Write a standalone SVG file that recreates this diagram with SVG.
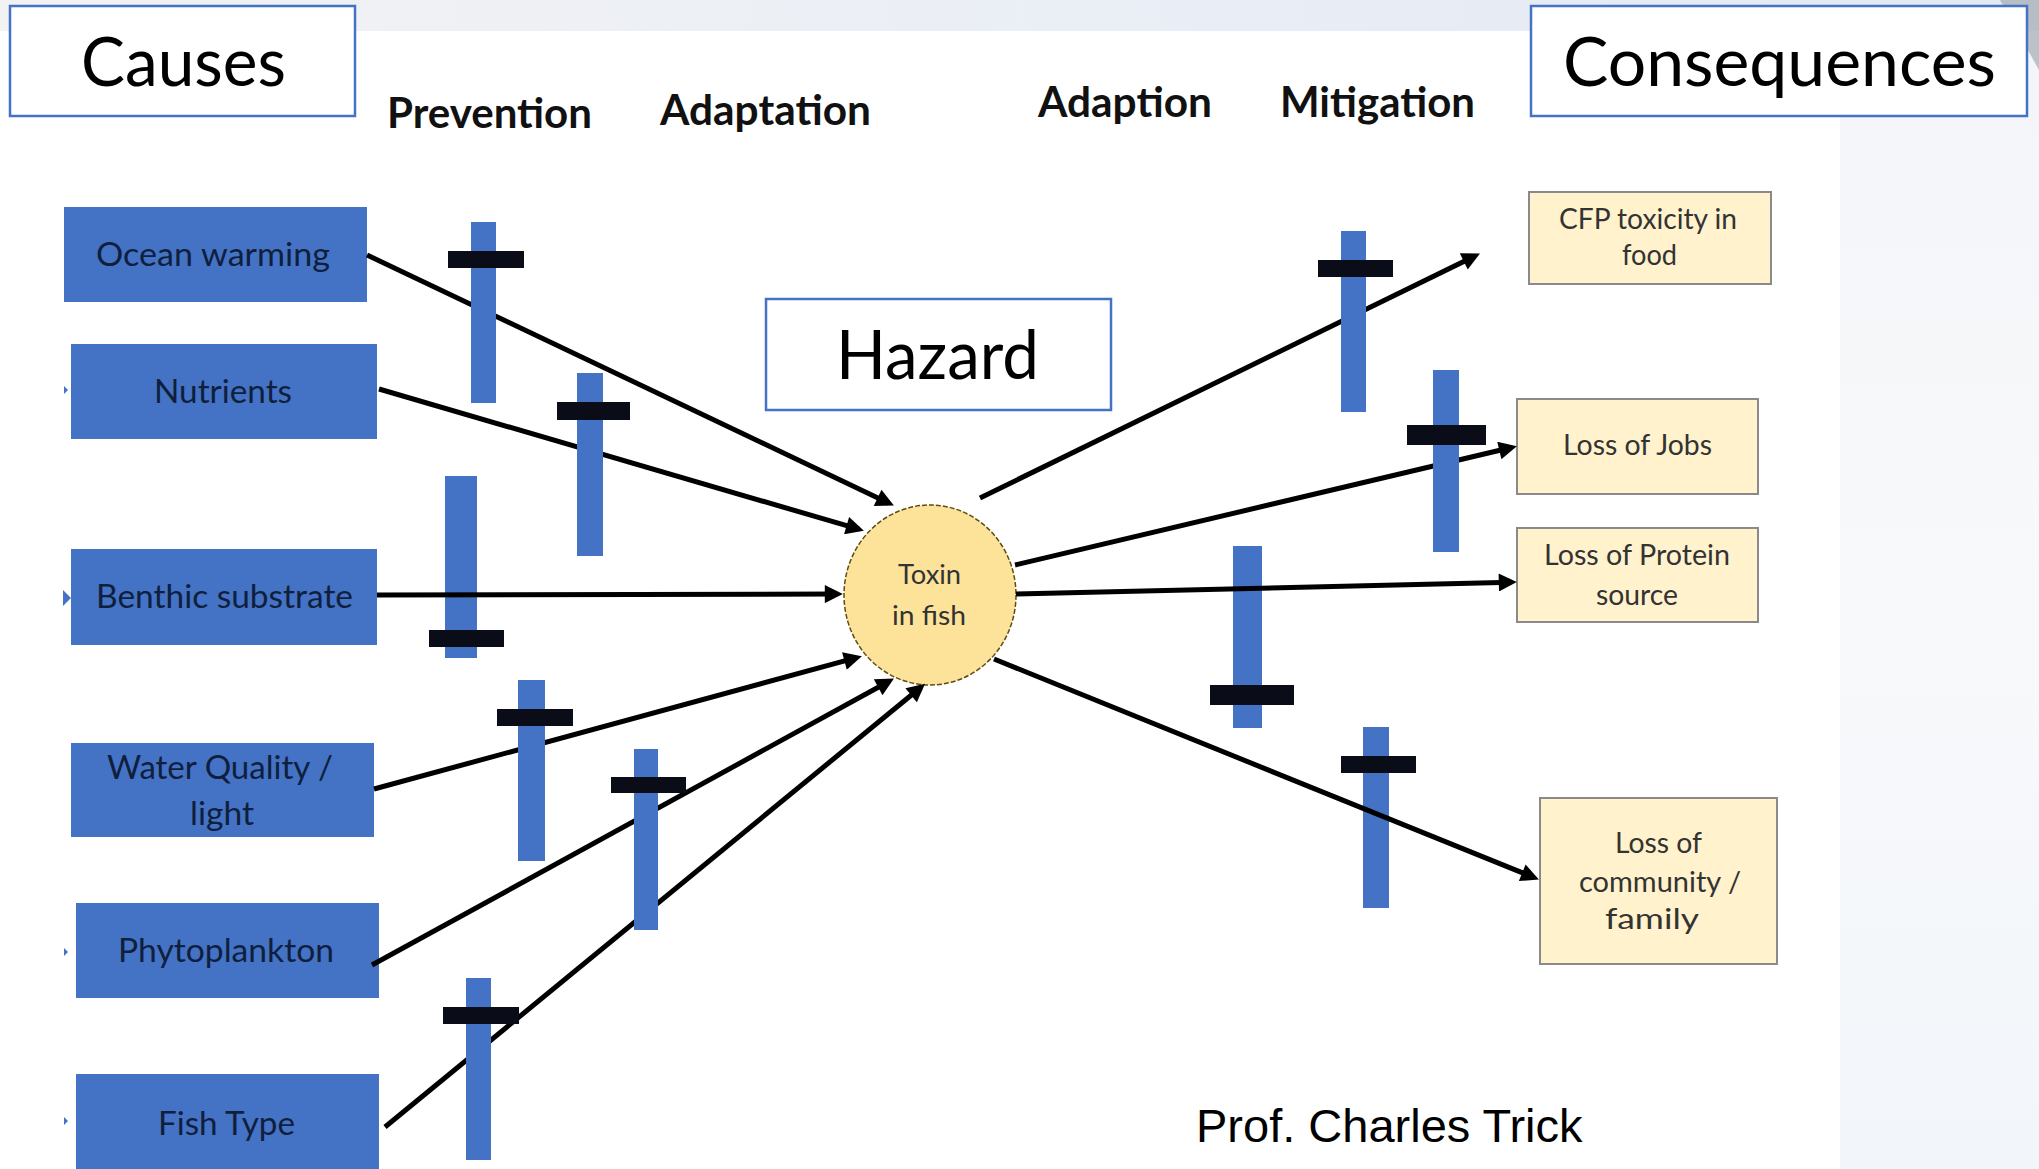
<svg xmlns="http://www.w3.org/2000/svg" width="2039" height="1169" viewBox="0 0 2039 1169">
  <defs>
    <style>
      .title { font-family: Lato, "Open Sans", sans-serif; font-size: 67px; fill: #000; }
      .col { font-family: Lato, "Open Sans", sans-serif; font-weight: bold; font-size: 42px; fill: #111; }
      .hdr { fill: #fff; stroke: #4472c4; stroke-width: 2.5; }
      .cause rect { fill: #4472c4; }
      .cause text { font-family: Lato, "Open Sans", sans-serif; font-size: 32px; fill: #0f1f3d; }
      .effect rect { fill: #fff2cc; stroke: #8a8a8a; stroke-width: 2; }
      .effect text { font-family: Lato, "Open Sans", sans-serif; font-size: 28px; fill: #333; }
      .bar { fill: #4472c4; }
      .block { fill: #0a0d18; }
      .link { stroke: #000; stroke-width: 5; fill: none; marker-end: url(#head); }
      .credit { font-family: "Liberation Sans", Arial, sans-serif; font-size: 47px; fill: #000; }
    </style>
    <marker id="head" viewBox="0 0 10 10" refX="7" refY="5" markerUnits="userSpaceOnUse" markerWidth="22" markerHeight="18" orient="auto">
      <path d="M0,0 L10,5 L0,10 z" fill="#000"/>
    </marker>
    <linearGradient id="topband" x1="0" y1="0" x2="1" y2="0">
      <stop offset="0" stop-color="#f2f2f3"/>
      <stop offset="0.6" stop-color="#e9eef6"/>
      <stop offset="1" stop-color="#e4e9f1"/>
    </linearGradient>
    <linearGradient id="sideband" x1="0" y1="0" x2="0" y2="1">
      <stop offset="0" stop-color="#f3f5f8"/>
      <stop offset="0.5" stop-color="#f8f9fb"/>
      <stop offset="1" stop-color="#f2f6fa"/>
    </linearGradient>
  </defs>

  <!-- page -->
  <rect x="0" y="0" width="2039" height="1169" fill="#fff"/>
  <rect x="0" y="0" width="2039" height="31" fill="url(#topband)"/>
  <rect x="1840" y="31" width="199" height="1138" fill="url(#sideband)"/>
  <path d="M2000,0 L2039,0 L2039,70 Z" fill="#9aa0a8" opacity="0.6"/>

  <!-- section headings -->
  <g id="causes-heading">
    <rect class="hdr" x="10" y="6" width="345" height="110"/>
    <text class="title" x="81" y="86" textLength="205" lengthAdjust="spacingAndGlyphs">Causes</text>
  </g>
  <g id="consequences-heading">
    <rect class="hdr" x="1531" y="6" width="496" height="110"/>
    <text class="title" x="1563" y="86" textLength="433" lengthAdjust="spacingAndGlyphs">Consequences</text>
  </g>
  <g id="hazard-heading">
    <rect class="hdr" x="766" y="299" width="345" height="111" stroke-width="2"/>
    <text class="title" x="836" y="379" font-size="68" textLength="203" lengthAdjust="spacingAndGlyphs">Hazard</text>
  </g>

  <!-- control column labels -->
  <g id="column-labels">
    <text class="col" x="387" y="128" textLength="205" lengthAdjust="spacingAndGlyphs">Prevention</text>
    <text class="col" x="660" y="125" textLength="211" lengthAdjust="spacingAndGlyphs">Adaptation</text>
    <text class="col" x="1038" y="117" textLength="174" lengthAdjust="spacingAndGlyphs">Adaption</text>
    <text class="col" x="1280" y="117" textLength="195" lengthAdjust="spacingAndGlyphs">Mitigation</text>
  </g>

  <!-- cause nodes -->
  <g id="cause-ocean-warming" class="cause">
    <rect x="64" y="207" width="303" height="95"/>
    <text x="96" y="266" textLength="234" lengthAdjust="spacingAndGlyphs">Ocean warming</text>
  </g>
  <g id="cause-nutrients" class="cause">
    <rect x="71" y="344" width="306" height="95"/>
    <path d="M64,386 L68,390 L64,394 Z" fill="#4472c4"/>
    <text x="154" y="403" textLength="138" lengthAdjust="spacingAndGlyphs">Nutrients</text>
  </g>
  <g id="cause-benthic-substrate" class="cause">
    <rect x="71" y="549" width="306" height="96"/>
    <path d="M63,590 L71,598 L63,606 Z" fill="#4472c4"/>
    <text x="96" y="608" textLength="257" lengthAdjust="spacingAndGlyphs">Benthic substrate</text>
  </g>
  <g id="cause-water-quality" class="cause">
    <rect x="71" y="743" width="303" height="94"/>
    <text x="107" y="779" textLength="226" lengthAdjust="spacingAndGlyphs">Water Quality /</text>
    <text x="190" y="825" textLength="64" lengthAdjust="spacingAndGlyphs">light</text>
  </g>
  <g id="cause-phytoplankton" class="cause">
    <rect x="76" y="903" width="303" height="95"/>
    <path d="M64,948 L68,952 L64,956 Z" fill="#4472c4"/>
    <text x="118" y="962" textLength="216" lengthAdjust="spacingAndGlyphs">Phytoplankton</text>
  </g>
  <g id="cause-fish-type" class="cause">
    <rect x="76" y="1074" width="303" height="95"/>
    <path d="M64,1117 L68,1121 L64,1125 Z" fill="#4472c4"/>
    <text x="158" y="1135" textLength="137" lengthAdjust="spacingAndGlyphs">Fish Type</text>
  </g>

  <!-- central hazard node -->
  <g id="toxin-in-fish">
    <ellipse cx="930" cy="595" rx="86" ry="90" fill="#fde39a" stroke="#5e4d12" stroke-width="1.5" stroke-dasharray="5 2"/>
    <text x="898" y="584" font-family="Lato, 'Open Sans', sans-serif" font-size="27" fill="#333" textLength="63" lengthAdjust="spacingAndGlyphs">Toxin</text>
    <text x="892" y="625" font-family="Lato, 'Open Sans', sans-serif" font-size="27" fill="#333" textLength="74" lengthAdjust="spacingAndGlyphs">in fish</text>
  </g>

  <!-- consequence nodes -->
  <g id="effect-cfp-toxicity" class="effect">
    <rect x="1529" y="192" width="242" height="92"/>
    <text x="1559" y="229" textLength="178" lengthAdjust="spacingAndGlyphs">CFP toxicity in</text>
    <text x="1622" y="265" textLength="55" lengthAdjust="spacingAndGlyphs">food</text>
  </g>
  <g id="effect-loss-of-jobs" class="effect">
    <rect x="1517" y="399" width="241" height="95"/>
    <text x="1563" y="455" textLength="149" lengthAdjust="spacingAndGlyphs">Loss of Jobs</text>
  </g>
  <g id="effect-loss-of-protein" class="effect">
    <rect x="1517" y="528" width="241" height="94"/>
    <text x="1544" y="565" textLength="186" lengthAdjust="spacingAndGlyphs">Loss of Protein</text>
    <text x="1596" y="605" textLength="82" lengthAdjust="spacingAndGlyphs">source</text>
  </g>
  <g id="effect-loss-of-community" class="effect">
    <rect x="1540" y="798" width="237" height="166"/>
    <text x="1615" y="853" textLength="87" lengthAdjust="spacingAndGlyphs">Loss of</text>
    <text x="1579" y="892" textLength="162" lengthAdjust="spacingAndGlyphs">community /</text>
    <text x="1605" y="929" textLength="94" lengthAdjust="spacingAndGlyphs">family</text>
  </g>

  <!-- barriers that sit beneath their connector -->
  <g id="barriers-under">
    <g id="barrier-benthic">
      <rect class="bar" x="445" y="476" width="32" height="182"/>
      <rect class="block" x="429" y="630" width="75" height="17"/>
    </g>
    <g id="barrier-protein">
      <rect class="bar" x="1233" y="546" width="29" height="182"/>
      <rect class="block" x="1210" y="685" width="84" height="20"/>
    </g>
    <g id="barrier-community">
      <rect class="bar" x="1363" y="727" width="26" height="181"/>
      <rect class="block" x="1341" y="756" width="75" height="17"/>
    </g>
  </g>

  <!-- connectors -->
  <g id="connectors">
    <line class="link" x1="367" y1="255" x2="889" y2="503.2"/>
    <line class="link" x1="379" y1="389" x2="858.7" y2="529.2"/>
    <line class="link" x1="377" y1="595" x2="837.4" y2="594.1"/>
    <line class="link" x1="374" y1="789" x2="856.6" y2="657.7"/>
    <line class="link" x1="372" y1="965" x2="889.2" y2="681.2"/>
    <line class="link" x1="385" y1="1127" x2="920.9" y2="687.2"/>
    <line class="link" x1="980" y1="498" x2="1475.1" y2="255.9"/>
    <line class="link" x1="1015" y1="565" x2="1511.6" y2="447.5"/>
    <line class="link" x1="1016" y1="594" x2="1511.4" y2="582.2"/>
    <line class="link" x1="994" y1="659" x2="1533.9" y2="877.5"/>
  </g>

  <!-- barriers drawn over their connector -->
  <g id="barriers-over">
    <g id="barrier-ocean-warming">
      <rect class="bar" x="471" y="222" width="25" height="181"/>
      <rect class="block" x="448" y="251" width="76" height="17"/>
    </g>
    <g id="barrier-nutrients">
      <rect class="bar" x="577" y="373" width="26" height="183"/>
      <rect class="block" x="557" y="402" width="73" height="18"/>
    </g>
    <g id="barrier-water-quality">
      <rect class="bar" x="518" y="680" width="27" height="181"/>
      <rect class="block" x="497" y="709" width="76" height="17"/>
    </g>
    <g id="barrier-phytoplankton">
      <rect class="bar" x="634" y="749" width="24" height="181"/>
      <rect class="block" x="611" y="777" width="75" height="16"/>
    </g>
    <g id="barrier-fish-type">
      <rect class="bar" x="466" y="978" width="25" height="182"/>
      <rect class="block" x="443" y="1007" width="76" height="17"/>
    </g>
    <g id="barrier-cfp">
      <rect class="bar" x="1341" y="231" width="25" height="181"/>
      <rect class="block" x="1318" y="260" width="75" height="17"/>
    </g>
    <g id="barrier-jobs">
      <rect class="bar" x="1433" y="370" width="26" height="182"/>
      <rect class="block" x="1407" y="425" width="79" height="20"/>
    </g>
  </g>

  <text class="credit" x="1196" y="1142">Prof. Charles Trick</text>
</svg>
